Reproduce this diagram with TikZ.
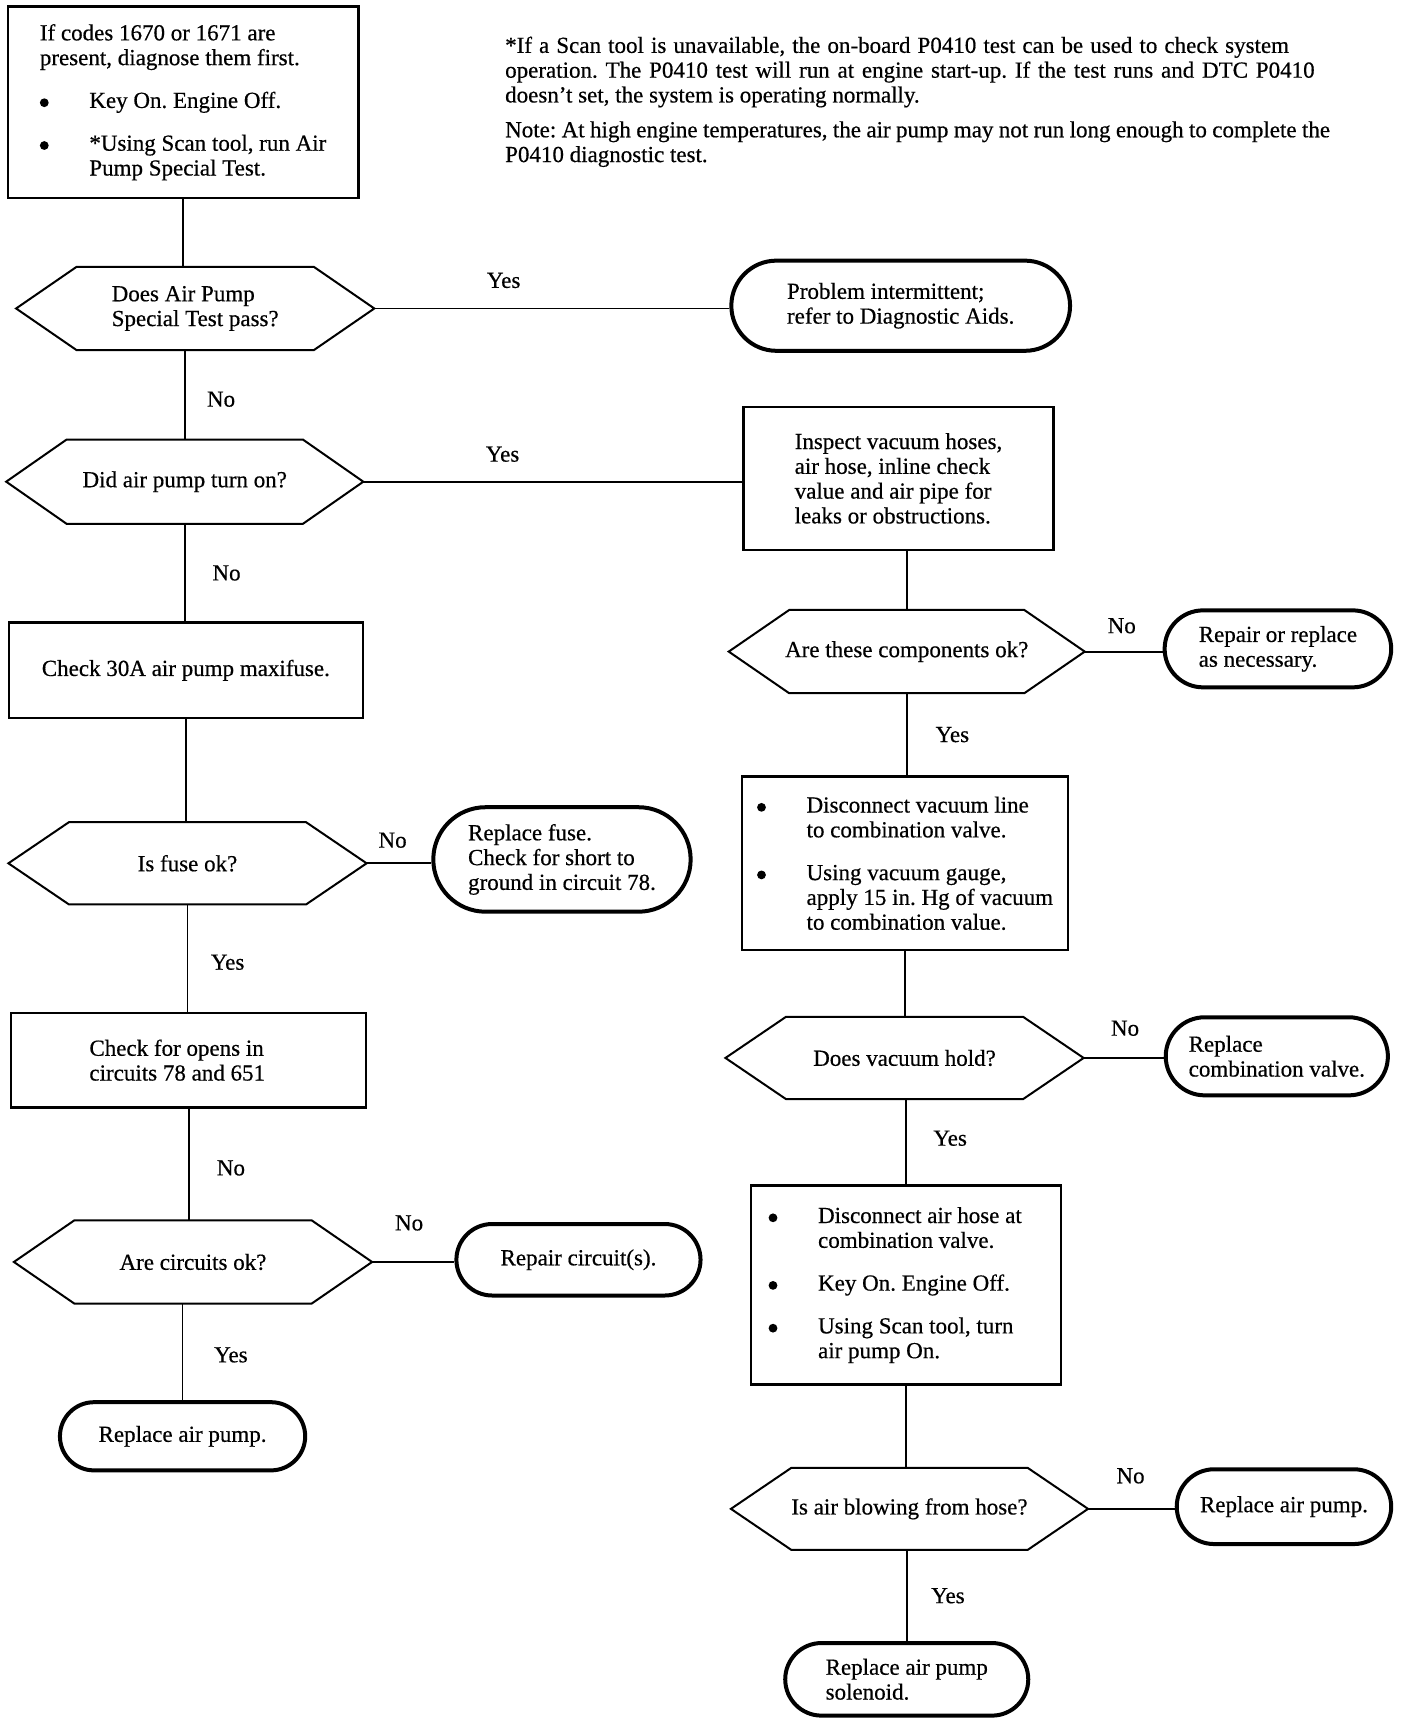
\documentclass[tikz,border=0pt]{standalone}
\usepackage{fontspec}
\usepackage{graphicx}
\setmainfont{Liberation Serif}[FakeBold=0.5]
\usetikzlibrary{shapes.misc}
\newcommand\bul{\makebox[24.75pt][l]{\raisebox{0.4pt}{\tikz\fill (0,0) circle (2.2pt);}}}
\newcommand\ind{\hspace*{24.75pt}}
\newcommand\hexout[1]{\draw[hexline] (#1.west) -- ([xshift=30.25pt]#1.north west) -- ([xshift=-30.25pt]#1.north east) -- (#1.east) -- ([xshift=-30.25pt]#1.south east) -- ([xshift=30.25pt]#1.south west) -- cycle;}
\frenchspacing
\begin{document}
\begin{tikzpicture}[x=0.55pt,y=-0.55pt,
  every node/.style={font=\fontsize{11.5}{12.4}\selectfont, inner sep=0pt},
  box/.style 2 args={draw, line width=1.1pt, minimum width=#1*0.55pt, minimum height=#2*0.55pt, align=left},
  term/.style 2 args={draw, line width=2pt, rounded rectangle, minimum width=#1*0.55pt, minimum height=#2*0.55pt, align=left},
  dec/.style 2 args={minimum width=#1*0.55pt, minimum height=#2*0.55pt, align=left},
  hexline/.style={line width=1pt},
  conn/.style={line width=0.9pt},
  lab/.style={inner sep=0pt}
]
\fill[white] (0,0) rectangle (1280,1564);
\useasboundingbox (0,0) rectangle (1280,1564);

% left column
\node[box={319}{174}] (start) at (166.5,93) {If codes 1670 or 1671 are\\present, diagnose them first.\\[9pt]\bul Key On. Engine Off.\\[9pt]\bul *Using Scan tool, run Air\\\ind Pump Special Test.};
\node[anchor=north west, align=left] (note) at (459,33) {\makebox[392pt][s]{*If a Scan tool is unavailable, the on-board P0410 test can be used to check system}\\\makebox[404.8pt][s]{operation. The P0410 test will run at engine start-up. If the test runs and DTC P0410}\\doesn’t set, the system is operating normally.\\[5pt]\makebox[412.5pt][s]{Note: At high engine temperatures, the air pump may not run long enough to complete the}\\P0410 diagnostic test.};

\node[dec={325}{75}] (d1) at (177.5,280.5) {Does Air Pump\\Special Test pass?};
\hexout{d1}
\node[term={308}{82}] (t1) at (819,278) {Problem intermittent;\\refer to Diagnostic Aids.};
\node[dec={324}{76}] (d2) at (168,438) {Did air pump turn on?};
\hexout{d2}
\node[box={282}{130}] (insp) at (817,435) {Inspect vacuum hoses,\\air hose, inline check\\value and air pipe for\\leaks or obstructions.};
\node[box={322}{87}] (b2) at (169,609.5) {Check 30A air pump maxifuse.};
\node[dec={325}{74}] (d3) at (170.5,785) {Is fuse ok?};
\hexout{d3}
\node[term={234}{95}] (t2) at (511,781.5) {Replace fuse.\\Check for short to\\ground in circuit 78.};
\node[box={323}{86}] (b3) at (171.5,964) {Check for opens in\hspace*{12pt}\\circuits 78 and 651};
\node[dec={325}{75}] (d4) at (175.5,1147.5) {Are circuits ok?};
\hexout{d4}
\node[term={222}{65}] (t3) at (526,1145.5) {Repair circuit(s).};
\node[term={223}{62}] (t4) at (166,1306) {Replace air pump.};

% right column
\node[dec={323}{75}] (d5) at (824.5,592.5) {Are these components ok?};
\hexout{d5}
\node[term={206}{70}] (t5) at (1162,590) {Repair or replace\\as necessary.};
\node[box={296}{158}] (b5) at (823,785) {\bul Disconnect vacuum line\\\ind to combination valve.\\[9pt]\bul Using vacuum gauge,\\\ind apply 15 in. Hg of vacuum\\\ind to combination value.};
\node[dec={325}{74}] (d6) at (822.5,962) {Does vacuum hold?};
\hexout{d6}
\node[term={202}{71}] (t6) at (1161,960.5) {Replace\\combination valve.};
\node[box={282}{181}] (b6) at (824,1168.5) {\bul Disconnect air hose at\hspace*{11pt}\\\ind combination valve.\\[9pt]\bul Key On. Engine Off.\\[9pt]\bul Using Scan tool, turn\\\ind air pump On.};
\node[dec={324}{74}] (d7) at (827,1372) {Is air blowing from hose?};
\hexout{d7}
\node[term={195}{68}] (t7) at (1167.5,1370) {Replace air pump.};
\node[term={221}{66}] (t8) at (824.5,1527) {Replace air pump\\solenoid.};

% connectors
\draw[conn] (start.south) -- (start.south |- d1.north);
\draw[conn] (d1.east) -- (d1.east -| t1.west);
\draw[conn] (d2.north |- d1.south) -- (d2.north);
\draw[conn] (d2.east) -- (d2.east -| insp.west);
\draw[conn] (d2.south) -- (d2.south |- b2.north);
\draw[conn] (b2.south) -- (b2.south |- d3.north);
\draw[conn] (d3.south) -- (d3.south |- b3.north);
\draw[conn] (d3.east) -- (d3.east -| t2.west);
\draw[conn] (b3.south) -- (b3.south |- d4.north);
\draw[conn] (d4.east) -- (d4.east -| t3.west);
\draw[conn] (t4.north |- d4.south) -- (t4.north);
\draw[conn] (d5.north |- insp.south) -- (d5.north);
\draw[conn] (d5.east) -- (d5.east -| t5.west);
\draw[conn] (d5.south) -- (d5.south |- b5.north);
\draw[conn] (b5.south) -- (b5.south |- d6.north);
\draw[conn] (d6.east) -- (d6.east -| t6.west);
\draw[conn] (b6.north |- d6.south) -- (b6.north);
\draw[conn] (b6.south) -- (b6.south |- d7.north);
\draw[conn] (d7.east) -- (d7.east -| t7.west);
\draw[conn] (t8.north |- d7.south) -- (t8.north);

% labels
\node[lab] (l1) at (458,255) {Yes};
\node[lab] (l2) at (201,363) {No};
\node[lab] (l3) at (457,413) {Yes};
\node[lab] (l4) at (206,521) {No};
\node[lab] (l5) at (357,764) {No};
\node[lab] (l6) at (207,875) {Yes};
\node[lab] (l7) at (210,1062) {No};
\node[lab] (l8) at (372,1112) {No};
\node[lab] (l9) at (210,1232) {Yes};
\node[lab] (l10) at (1020,569) {No};
\node[lab] (l11) at (866,668) {Yes};
\node[lab] (l12) at (1023,935) {No};
\node[lab] (l13) at (864,1035) {Yes};
\node[lab] (l14) at (1028,1342) {No};
\node[lab] (l15) at (862,1451) {Yes};
\end{tikzpicture}
\end{document}
